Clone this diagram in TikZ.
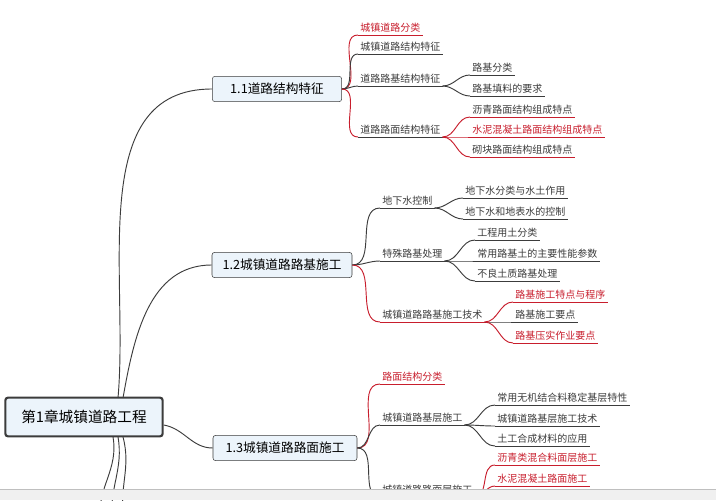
\documentclass[tikz,border=0pt]{standalone}
\usepackage{fontspec}
\setmainfont{Noto Sans CJK SC}
\usetikzlibrary{positioning}
\definecolor{mapred}{RGB}{200,30,45}
\definecolor{mapgray}{RGB}{60,60,60}
\definecolor{boxfill}{RGB}{236,244,251}
\tikzstyle{leaf} = [inner xsep=1.5pt, inner ysep=2pt, font=\fontsize{7.5}{9}\selectfont, anchor=south west]
\tikzstyle{topic} = [rectangle, draw=mapgray, fill=boxfill, rounded corners=2pt, text centered, minimum height=19pt, font=\fontsize{9.5}{11}\selectfont, inner xsep=5pt]
\tikzstyle{link} = [mapgray, line width=0.7pt]
\tikzstyle{redlink} = [mapred, line width=0.7pt]
\newcommand{\leafnode}[5]
{
    \node (#1) [leaf, text=#5] at (#2,#3) {#4};
    \draw [#5, line width=0.7pt] (#1.south west) -- (#1.south east);
}
\newcommand{\branch}[3]
{
    \draw [#3] (#1) to[out=0,in=180] (#2.south west);
}

\begin{document}
\begin{tikzpicture}[x=0.75pt, y=-0.75pt]
\useasboundingbox (0,0) rectangle (716,500);
\fill[white] (0,0) rectangle (716,500);

% main topics
\node (root) [topic, line width=1.6pt, minimum width=118pt, minimum height=29pt, font=\fontsize{11}{13}\selectfont] at (84,417) {第1章城镇道路工程};
\node (t1) [topic, minimum width=97pt] at (277,89) {1.1道路结构特征};
\node (t2) [topic, minimum width=105pt] at (282,265) {1.2城镇道路路基施工};
\node (t3) [topic, minimum width=108pt] at (285,448) {1.3城镇道路路面施工};

\coordinate (d1) at (100,520);
\coordinate (d2) at (112,520);
\coordinate (d3) at (124,520);

\draw [link] (118,398) to[out=85,in=180] (t1.west);
\draw [link] (123,398) to[out=80,in=180] (t2.west);
\draw [link] (root.east) ++(0,8) to[out=-10,in=180] (t3.west);
\draw [link] (113,437) to[out=-80,in=95] (d1);
\draw [link] (118,437) to[out=-80,in=95] (d2);
\draw [link] (123,437) to[out=-75,in=100] (d3);

% 1.1
\leafnode{a1}{358}{35}{城镇道路分类}{mapred}
\leafnode{a2}{358}{54}{城镇道路结构特征}{mapgray}
\leafnode{a3}{358}{86}{道路路基结构特征}{mapgray}
\leafnode{a4}{358}{137}{道路路面结构特征}{mapgray}
\branch{t1.east}{a1}{redlink}
\branch{t1.east}{a2}{link}
\branch{t1.east}{a3}{link}
\branch{t1.east}{a4}{redlink}
\leafnode{a31}{470}{75}{路基分类}{mapgray}
\leafnode{a32}{470}{96}{路基填料的要求}{mapgray}
\branch{a3.south east}{a31}{link}
\branch{a3.south east}{a32}{link}
\leafnode{a41}{470}{117}{沥青路面结构组成特点}{mapgray}
\leafnode{a42}{470}{137}{水泥混凝土路面结构组成特点}{mapred}
\leafnode{a43}{470}{157}{砌块路面结构组成特点}{mapgray}
\draw [redlink] (a41.south west) -- (a41.south east);
\draw [redlink] (a43.south west) -- (a43.south east);
\branch{a4.south east}{a41}{redlink}
\branch{a4.south east}{a42}{redlink}
\branch{a4.south east}{a43}{redlink}

% 1.2
\leafnode{b1}{380}{208}{地下水控制}{mapgray}
\leafnode{b2}{380}{261}{特殊路基处理}{mapgray}
\leafnode{b3}{380}{322}{城镇道路路基施工技术}{mapgray}
\draw [redlink] (b3.south west) -- (b3.south east);
\branch{t2.east}{b1}{link}
\branch{t2.east}{b2}{link}
\branch{t2.east}{b3}{redlink}
\leafnode{b11}{463}{198}{地下水分类与水土作用}{mapgray}
\leafnode{b12}{463}{219}{地下水和地表水的控制}{mapgray}
\branch{b1.south east}{b11}{link}
\branch{b1.south east}{b12}{link}
\leafnode{b21}{475}{240}{工程用土分类}{mapgray}
\leafnode{b22}{475}{261}{常用路基土的主要性能参数}{mapgray}
\leafnode{b23}{475}{281}{不良土质路基处理}{mapgray}
\branch{b2.south east}{b21}{link}
\branch{b2.south east}{b22}{link}
\branch{b2.south east}{b23}{link}
\leafnode{b31}{513}{302}{路基施工特点与程序}{mapred}
\leafnode{b32}{513}{322}{路基施工要点}{mapgray}
\leafnode{b33}{513}{343}{路基压实作业要点}{mapred}
\branch{b3.south east}{b31}{redlink}
\branch{b3.south east}{b32}{link}
\branch{b3.south east}{b33}{redlink}

% 1.3
\leafnode{c1}{380}{384}{路面结构分类}{mapred}
\leafnode{c2}{380}{425}{城镇道路基层施工}{mapgray}
\leafnode{c3}{380}{497}{城镇道路路面层施工}{mapgray}
\branch{t3.east}{c1}{redlink}
\branch{t3.east}{c2}{link}
\branch{t3.east}{c3}{link}
\leafnode{c21}{495}{405}{常用无机结合料稳定基层特性}{mapgray}
\leafnode{c22}{495}{426}{城镇道路基层施工技术}{mapgray}
\leafnode{c23}{495}{446}{土工合成材料的应用}{mapgray}
\branch{c2.south east}{c21}{link}
\branch{c2.south east}{c22}{link}
\branch{c2.south east}{c23}{link}
\leafnode{c31}{495}{465}{沥青类混合料面层施工}{mapred}
\leafnode{c32}{495}{486}{水泥混凝土路面施工}{mapred}
\branch{c3.south east}{c31}{redlink}
\branch{c3.south east}{c32}{redlink}

% status bar
\fill[black!6] (0,489) rectangle (716,500);
\draw[black!25] (0,489) -- (716,489);
\end{tikzpicture}
\end{document}
